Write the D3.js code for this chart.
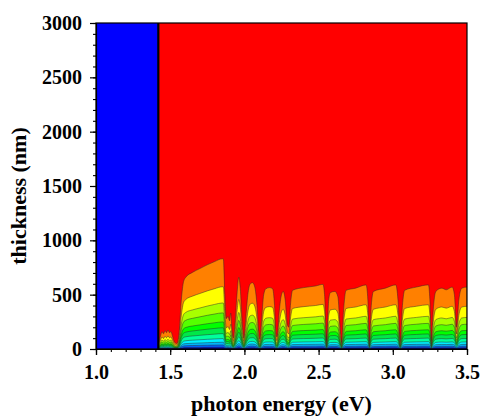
<!DOCTYPE html>
<html><head><meta charset="utf-8">
<script src="https://cdn.jsdelivr.net/npm/d3@7"></script>
<style>
html,body{margin:0;padding:0;background:#fff;}
svg{display:block;}
text{font-family:"Liberation Serif","Times New Roman",serif;font-weight:bold;fill:#000;}
</style></head>
<body>
<svg id="chart" width="483" height="418"></svg>
<script>
// ---- data ----
const bandgap = 1.42; // eV, left of this everything is blue
const energy = [1.420,1.425,1.435,1.445,1.455,1.465,1.475,1.485,1.495,1.505,1.515,1.530,1.545,1.560,1.575,1.590,1.605,1.650,1.700,1.750,1.800,1.850,1.858,1.868,1.878,1.890,1.900,1.908,1.915,1.925,1.935,1.950,1.962,1.972,1.985,1.997,2.010,2.025,2.040,2.055,2.070,2.085,2.097,2.105,2.115,2.130,2.145,2.170,2.190,2.203,2.212,2.220,2.235,2.250,2.262,2.275,2.290,2.300,2.310,2.325,2.400,2.480,2.530,2.540,2.555,2.568,2.580,2.610,2.630,2.645,2.655,2.668,2.685,2.750,2.820,2.832,2.842,2.855,2.870,2.950,3.020,3.035,3.050,3.065,3.080,3.160,3.240,3.250,3.260,3.272,3.290,3.330,3.360,3.400,3.415,3.430,3.445,3.465,3.500];
// thickness (nm) of the red/orange contour boundary
const redEdge = [0,60,120,160,140,170,150,175,150,160,120,60,50,150,450,620,660,705,740,775,805,830,830,500,280,300,260,330,200,100,200,500,660,560,250,100,300,520,600,610,570,400,150,90,250,500,555,565,555,400,150,110,350,500,530,450,220,200,400,540,565,580,595,500,70,450,520,530,480,200,60,350,540,560,590,450,70,400,530,560,590,450,60,400,540,570,590,450,70,350,530,560,545,570,500,200,450,560,570];
// contour boundaries as fractions of the red edge (top to bottom)
const levelFractions = [1, 0.69, 0.51, 0.40, 0.30, 0.235, 0.17, 0.115, 0.075, 0.045, 0.02];
// fill below each boundary
const bandColors = ["#ff8000","#ffff00","#a8ff00","#55ff00","#00ff00","#00e848","#00ff9c","#00f0ff","#00b4ff","#0064ff","#0000d8"];
const topColor = "#ff0000";
const baseColor = "#0000ff";
const xTicks = [1.0,1.5,2.0,2.5,3.0,3.5];
const yTicks = [0,500,1000,1500,2000,2500,3000];

// ---- layout ----
const L = 96, R = 467, T = 23, B = 349;
const svg = d3.select("#chart");
const x = d3.scaleLinear().domain([1.0,3.5]).range([L,R]);
const y = d3.scaleLinear().domain([0,3000]).range([B,T]);

svg.append("defs").append("clipPath").attr("id","clip")
  .append("rect").attr("x",L).attr("y",T).attr("width",R-L).attr("height",B-T);
const g = svg.append("g").attr("clip-path","url(#clip)");

const pts = energy.map((e,i)=>({e, d: redEdge[i]}));

// base (blue)
g.append("rect").attr("x",L).attr("y",T).attr("width",R-L).attr("height",B-T).attr("fill",baseColor);
// red region above band gap
g.append("path").datum([{e:bandgap},{e:3.5}])
  .attr("fill",topColor)
  .attr("d", d3.area().x(d=>x(d.e)).y0(y(0)).y1(y(3000)));

// contour bands
levelFractions.forEach((f,k)=>{
  g.append("path").datum(pts)
    .attr("fill",bandColors[k])
    .attr("stroke","#2a2a2a").attr("stroke-width",0.6).attr("stroke-opacity",0.8)
    .attr("d", d3.area().curve(d3.curveMonotoneX).x(d=>x(d.e)).y0(y(0)).y1(d=>y(d.d*f)));
});

// band-gap edge line (where all contours pile up)
g.append("line").attr("x1",x(bandgap)).attr("x2",x(bandgap)).attr("y1",y(0)).attr("y2",y(3000))
  .attr("stroke","#000").attr("stroke-width",2.2);

// frame
svg.append("rect").attr("x",L).attr("y",T).attr("width",R-L).attr("height",B-T)
  .attr("fill","none").attr("stroke","#000").attr("stroke-width",1.2);

// axes
const fs = "20px";
const xMinor = d3.range(10,36).map(v=>v/10);
const yMinor = d3.range(0,3001,100);
svg.append("g").attr("transform",`translate(0,${B})`)
  .call(d3.axisBottom(x).tickValues(xMinor).tickSize(3).tickFormat(""))
  .call(a=>a.select(".domain").remove())
  .call(a=>a.selectAll("line").attr("stroke","#000").attr("stroke-width",1.1));
svg.append("g").attr("transform",`translate(0,${B})`)
  .call(d3.axisBottom(x).tickValues(xTicks).tickSize(6).tickPadding(10).tickFormat(d3.format(".1f")))
  .call(a=>a.select(".domain").attr("stroke","#000").attr("stroke-width",1.2))
  .call(a=>a.selectAll("line").attr("stroke","#000").attr("stroke-width",1.2))
  .call(a=>a.selectAll("text").style("font-size",fs).style("font-family","Liberation Serif").style("font-weight","bold").attr("fill","#000"));
svg.append("g").attr("transform",`translate(0,0)`).attr("transform",`translate(${L},0)`)
  .call(d3.axisLeft(y).tickValues(yMinor).tickSize(3).tickFormat(""))
  .call(a=>a.select(".domain").remove())
  .call(a=>a.selectAll("line").attr("stroke","#000").attr("stroke-width",1.1));
svg.append("g").attr("transform",`translate(${L},0)`)
  .call(d3.axisLeft(y).tickValues(yTicks).tickSize(6).tickPadding(8).tickFormat(d3.format("d")))
  .call(a=>a.select(".domain").attr("stroke","#000").attr("stroke-width",1.2))
  .call(a=>a.selectAll("line").attr("stroke","#000").attr("stroke-width",1.2))
  .call(a=>a.selectAll("text").style("font-size",fs).style("font-family","Liberation Serif").style("font-weight","bold").attr("fill","#000"));

// titles
svg.append("text").attr("x",(L+R)/2).attr("y",411).attr("text-anchor","middle")
  .style("font-size","22px").text("photon energy (eV)");
svg.append("text").attr("transform",`translate(26,${(T+B)/2+10}) rotate(-90)`).attr("text-anchor","middle")
  .style("font-size","22px").text("thickness (nm)");
</script>
</body></html>
